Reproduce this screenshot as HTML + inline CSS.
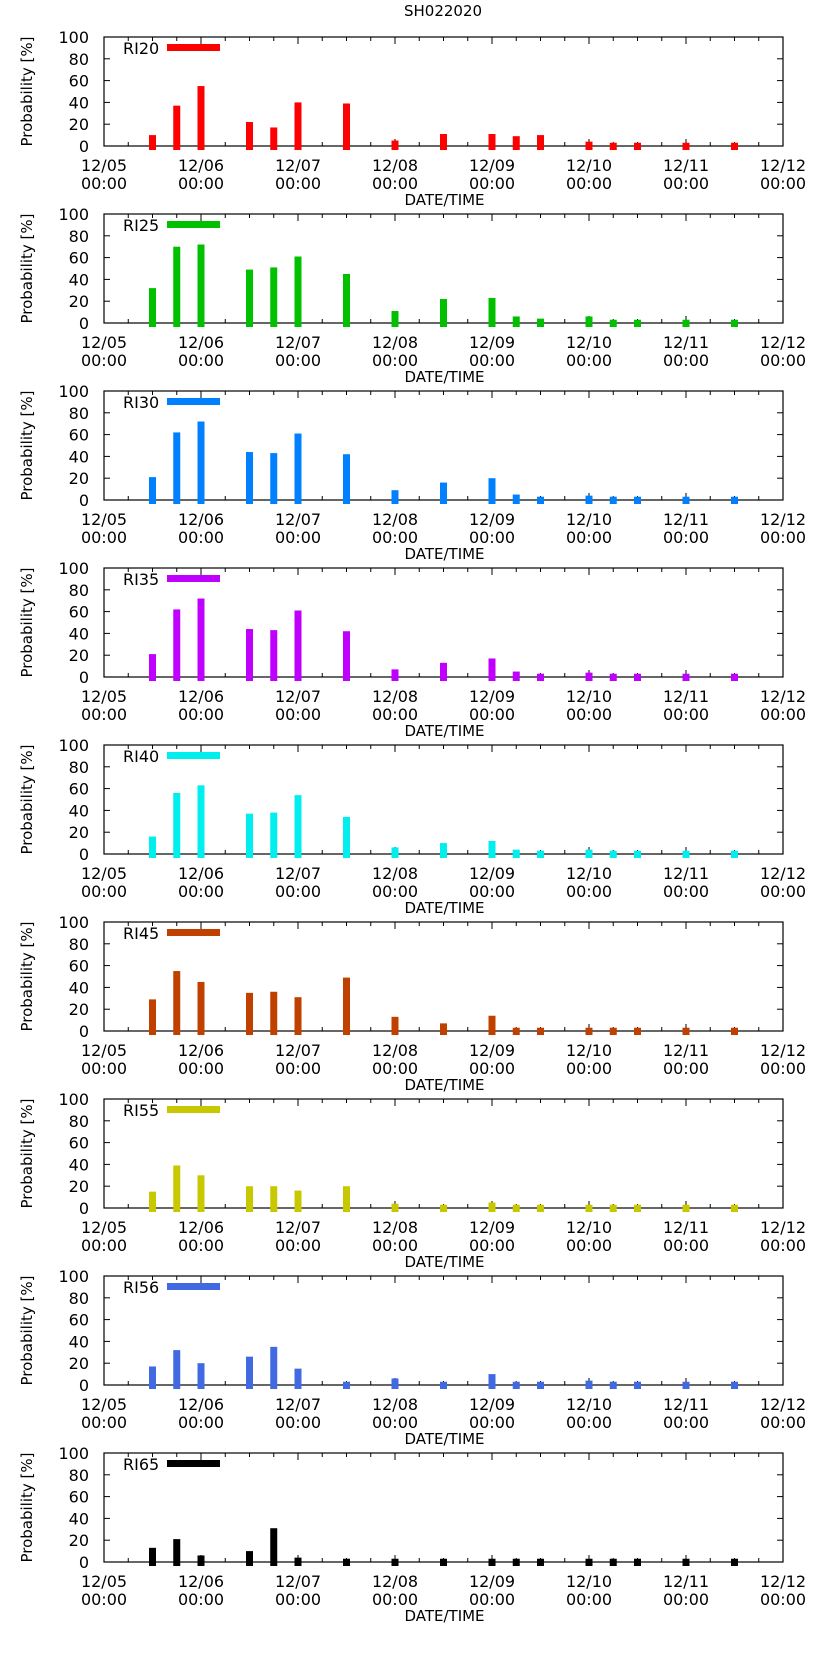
<!DOCTYPE html>
<html><head><meta charset="utf-8"><style>
html,body{margin:0;padding:0;background:#fff;}
svg{display:block;font-family:"DejaVu Sans","Liberation Sans",sans-serif;}
</style></head><body>
<svg id="chart" width="822" height="1653" viewBox="0 0 822 1653" xmlns="http://www.w3.org/2000/svg">
<text x="443" y="16" font-size="15" text-anchor="middle">SH022020</text>
</svg>
<script>
const dayOffsets = [0.5,0.75,1.0,1.5,1.75,2.0,2.5,3.0,3.5,4.0,4.25,4.5,5.0,5.25,5.5,6.0,6.5];
const seriesNames = ["RI20","RI25","RI30","RI35","RI40","RI45","RI55","RI56","RI65"];
const seriesColors = ["#ff0000","#00c000","#0080ff","#c000ff","#00eeee","#c04000","#c8c800","#4169e1","#000000"];
const ri20 = [10,37,55,22,17,40,39,5,11,11,9,10,4,3,3,3,3];
const ri25 = [32,70,72,49,51,61,45,11,22,23,6,4,6,3,3,3,3];
const ri30 = [21,62,72,44,43,61,42,9,16,20,5,3,4,3,3,3,3];
const ri35 = [21,62,72,44,43,61,42,7,13,17,5,3,4,3,3,3,3];
const ri40 = [16,56,63,37,38,54,34,6,10,12,4,3,4,3,3,3,3];
const ri45 = [29,55,45,35,36,31,49,13,7,14,3,3,3,3,3,3,3];
const ri55 = [15,39,30,20,20,16,20,4,3,5,3,3,3,3,3,3,3];
const ri56 = [17,32,20,26,35,15,3,6,3,10,3,3,4,3,3,3,3];
const ri65 = [13,21,6,10,31,4,3,3,3,3,3,3,3,3,3,3,3];
const allSeries = [ri20,ri25,ri30,ri35,ri40,ri45,ri55,ri56,ri65];
const xTickLabels = ["12/05","12/06","12/07","12/08","12/09","12/10","12/11","12/12"];
const yTicks = [0,20,40,60,80,100];

const NS="http://www.w3.org/2000/svg";
const svg=document.getElementById('chart');
const L=104,R=783,PH=109,PT0=37,STEP=177;
function mk(tag,attrs,parent){const e=document.createElementNS(NS,tag);for(const k in attrs)e.setAttribute(k,attrs[k]);(parent||svg).appendChild(e);return e;}
function xs(d){return L+(R-L)*d/7;}
allSeries.forEach((vals,p)=>{
  const top=PT0+p*STEP, bot=top+PH;
  const ys=v=>bot-PH*v/100;
  const g=mk('g',{});
  
  
  // frame
  const f=mk('rect',{x:L,y:top,width:R-L,height:PH,fill:'none',stroke:'#000','stroke-width':1.2},g);
  
  
  // y ticks
  yTicks.forEach(t=>{
    const y=ys(t);
    mk('line',{x1:L,x2:L+6,y1:y,y2:y,stroke:'#000'},g);
    mk('line',{x1:R-6,x2:R,y1:y,y2:y,stroke:'#000'},g);
    const tx=mk('text',{x:89,y:y+6,'font-size':16,'text-anchor':'end'},g);
    tx.textContent=t;
    
    
  });
  // x ticks
  for(let q=0;q<=28;q++){
    const x=xs(q/4), len=(q%4===0)?7:4;
    mk('line',{x1:x,x2:x,y1:bot,y2:bot-len,stroke:'#000'},g);
    mk('line',{x1:x,x2:x,y1:top,y2:top+len,stroke:'#000'},g);
  }
  // bars (drawn over ticks)
  vals.forEach((v,i)=>{
    const x=xs(dayOffsets[i]);
    const r=mk('rect',{x:x-3.5,y:ys(v),width:7,height:bot+4-ys(v),fill:seriesColors[p]},g);
    
    
  });
  xTickLabels.forEach((lab,i)=>{
    const x=xs(i);
    const t1=mk('text',{x:x,y:bot+25,'font-size':16,'text-anchor':'middle'},g);
    t1.textContent=lab;
    
    
    const t2=mk('text',{x:x,y:bot+43,'font-size':16,'text-anchor':'middle'},g);
    t2.textContent='00:00';
    
    
  });
  const xt=mk('text',{x:(L+R)/2+1,y:bot+59,'font-size':15,'text-anchor':'middle'},g);
  xt.textContent='DATE/TIME';
  
  
  const yc=(top+bot)/2;
  const yt=mk('text',{x:0,y:0,'font-size':15,'text-anchor':'middle',transform:`translate(32,${yc}) rotate(-90)`},g);
  yt.textContent='Probability [%]';
  
  
  const lt=mk('text',{x:123,y:top+17,'font-size':16},g);
  lt.textContent=seriesNames[p];
  
  
  const ll=mk('rect',{x:167,y:top+7,width:53,height:7,fill:seriesColors[p]},g);
  
  
});
</script>
</body></html>
